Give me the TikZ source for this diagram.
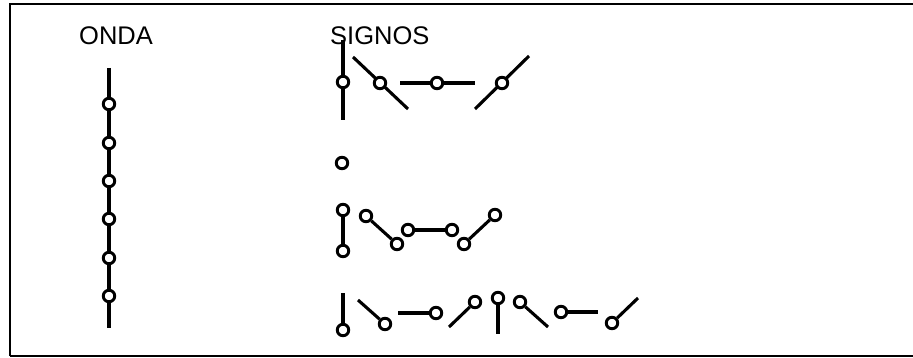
\documentclass[tikz,border=0pt]{standalone}
\usepackage{fontspec}
\setmainfont{Liberation Sans}
\begin{document}
\begin{tikzpicture}[x=1pt,y=-1pt,
  dot/.style={circle,draw,fill=white,line width=2.9pt,inner sep=0pt,minimum size=11.5pt},
  stroke/.style={line width=3.1pt},
  lbl/.style={font=\fontsize{25.5}{30}\selectfont,anchor=base west,inner sep=0pt},
  frame/.style={line width=2pt}]
\useasboundingbox (0,0) rectangle (913,358);
\draw[frame] (10,356) -- (10,4) -- (913,4);
\draw[frame] (10,356) -- (913,356);

\node[lbl] (onda) at (79,45) {ONDA};
\node[lbl] (signos) at (330,45) {SIGNOS};

% ONDA column
\coordinate (wt) at (109,68);
\coordinate (wb) at (109,328);
\draw[stroke] (wt) -- (wb);
\foreach \i/\y in {1/104,2/143,3/181,4/219,5/258,6/296}
  \node[dot] (w\i) at (109,\y) {};

% Row 1
\coordinate (a1t) at (343,40);
\coordinate (a1b) at (343,120);
\draw[stroke] (a1t) -- (a1b);
\node[dot] (a1) at (343,82) {};
\coordinate (a2t) at (353,57);
\coordinate (a2b) at (408,109);
\draw[stroke] (a2t) -- (a2b);
\node[dot] (a2) at (380,83) {};
\coordinate (a3l) at (400,83);
\coordinate (a3r) at (475,83);
\draw[stroke] (a3l) -- (a3r);
\node[dot] (a3) at (437,83) {};
\coordinate (a4b) at (475,109);
\coordinate (a4t) at (529,56);
\draw[stroke] (a4b) -- (a4t);
\node[dot] (a4) at (502,83) {};

% Row 2
\node[dot] (b1) at (342,163) {};

% Row 3
\node[dot] (c1) at (343,210) {};
\node[dot] (c2) at (343,251) {};
\draw[stroke] (c1) -- (c2);
\node[dot] (c3) at (366,216) {};
\node[dot] (c4) at (397,244) {};
\draw[stroke] (c3) -- (c4);
\node[dot] (c5) at (408,230) {};
\node[dot] (c6) at (452,230) {};
\draw[stroke] (c5) -- (c6);
\node[dot] (c7) at (464,244) {};
\node[dot] (c8) at (495,215) {};
\draw[stroke] (c7) -- (c8);

% Row 4
\node[dot] (d1) at (343,330) {};
\coordinate (d1e) at (343,293);
\draw[stroke] (d1e) -- (d1);
\node[dot] (d2) at (385,324) {};
\coordinate (d2e) at (358,300);
\draw[stroke] (d2e) -- (d2);
\node[dot] (d3) at (436,313) {};
\coordinate (d3e) at (398,313);
\draw[stroke] (d3e) -- (d3);
\node[dot] (d4) at (475,302) {};
\coordinate (d4e) at (449,327);
\draw[stroke] (d4e) -- (d4);
\node[dot] (d5) at (498,298) {};
\coordinate (d5e) at (498,334);
\draw[stroke] (d5) -- (d5e);
\node[dot] (d6) at (520,302) {};
\coordinate (d6e) at (548,327);
\draw[stroke] (d6) -- (d6e);
\node[dot] (d7) at (561,312) {};
\coordinate (d7e) at (598,312);
\draw[stroke] (d7) -- (d7e);
\node[dot] (d8) at (612,323) {};
\coordinate (d8e) at (638,298);
\draw[stroke] (d8) -- (d8e);
\end{tikzpicture}
\end{document}
